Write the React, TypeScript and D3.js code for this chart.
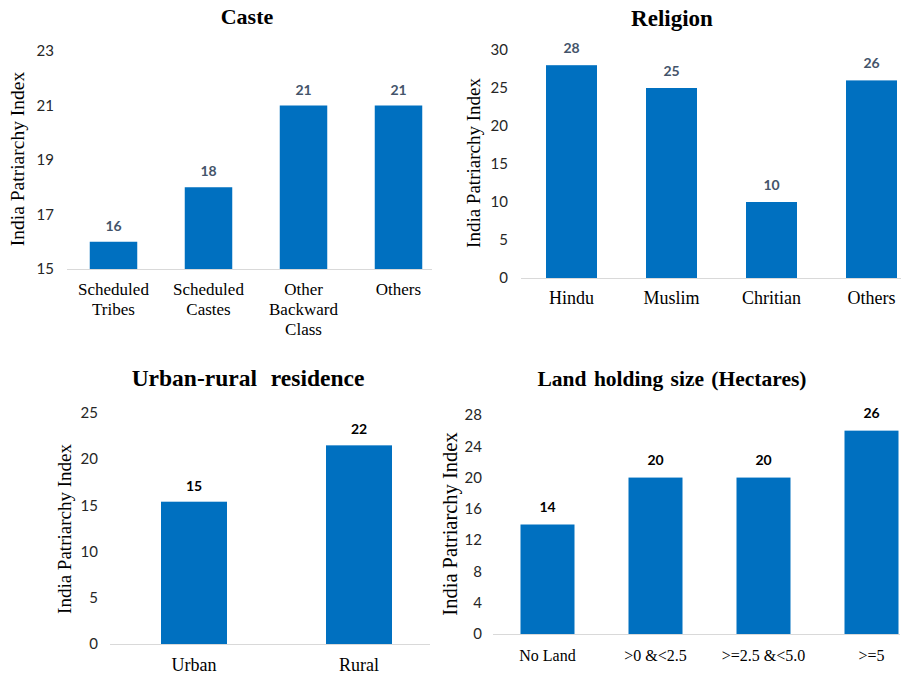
import React from "react";
import * as d3 from "d3";

const casteCategories = [["Scheduled", "Tribes"], ["Scheduled", "Castes"], ["Other", "Backward", "Class"], ["Others"]];
const casteValues = [16, 18, 21, 21];
const casteTicks = [15, 17, 19, 21, 23];

const religionCategories = [["Hindu"], ["Muslim"], ["Chritian"], ["Others"]];
const religionValues = [28, 25, 10, 26];
const religionTicks = [0, 5, 10, 15, 20, 25, 30];

const residenceCategories = [["Urban"], ["Rural"]];
const residenceValues = [15.4, 21.5];
const residenceLabels = ["15", "22"];
const residenceTicks = [0, 5, 10, 15, 20, 25];

const landCategories = [["No Land"], [">0 &<2.5"], [">=2.5 &<5.0"], [">=5"]];
const landValues = [14, 20, 20, 26];
const landTicks = [0, 4, 8, 12, 16, 20, 24, 28];

const BAR = "#0070C0";
const SERIF = { fontFamily: "Liberation Serif" };
const SANS = { fontFamily: "Lato" };

type PanelProps = {
  title: string;
  titleX: number;
  titleY: number;
  titleSize: number;
  titleSpacing: number;
  cats: string[][];
  values: number[];
  valueLabels?: string[];
  ticks: number[];
  yDomain: [number, number];
  yRange: [number, number];
  xRange: [number, number];
  pad: number;
  axisX: [number, number];
  tickRight: number;
  yLabelX: number;
  yLabelY: number;
  yLabelSize: number;
  catY: number;
  catSize: number;
  valueColor: string;
  valueOffset: number;
};

function Panel(p: PanelProps) {
  const y = d3.scaleLinear().domain(p.yDomain).range(p.yRange);
  const x = d3
    .scaleBand<number>()
    .domain(p.cats.map((_, i) => i))
    .range(p.xRange)
    .paddingInner(p.pad)
    .paddingOuter(p.pad / 2);
  const base = y(p.yDomain[0]);
  return (
    <g>
      <text x={p.titleX} y={p.titleY} textAnchor="middle" fontWeight="bold" fontSize={p.titleSize} fill="#000" style={{ ...SERIF, wordSpacing: `${p.titleSpacing}px` }}>
        {p.title}
      </text>
      <text
        transform={`translate(${p.yLabelX},${p.yLabelY}) rotate(-90)`}
        textAnchor="middle"
        dominantBaseline="central"
        fontSize={p.yLabelSize}
        fill="#000"
        style={SERIF}
      >
        India Patriarchy Index
      </text>
      {p.ticks.map((t) => (
        <text key={t} x={p.tickRight} y={y(t)} dy="0.35em" textAnchor="end" fontSize={15} fill="#262626" style={SANS}>
          {t}
        </text>
      ))}
      {p.values.map((v, i) => (
        <rect key={i} x={x(i)} y={y(v)} width={x.bandwidth()} height={base - y(v)} fill={BAR} />
      ))}
      <line x1={p.axisX[0]} x2={p.axisX[1]} y1={base + 0.5} y2={base + 0.5} stroke="#D9D9D9" strokeWidth={1.2} />
      {p.values.map((v, i) => (
        <text key={i} x={(x(i) as number) + x.bandwidth() / 2} y={y(v) - p.valueOffset} textAnchor="middle" fontWeight="bold" fontSize={14} fill={p.valueColor} style={SANS}>
          {p.valueLabels ? p.valueLabels[i] : Math.round(v)}
        </text>
      ))}
      {p.cats.map((lines, i) => (
        <text key={i} textAnchor="middle" fontSize={p.catSize} fill="#000" style={SERIF}>
          {lines.map((ln, j) => (
            <tspan key={j} x={(x(i) as number) + x.bandwidth() / 2} y={p.catY + j * 20}>
              {ln}
            </tspan>
          ))}
        </text>
      ))}
    </g>
  );
}

export default function App() {
  return (
    <svg width={901} height={675} style={{ position: "absolute", left: 0, top: 0, background: "#fff" }}>
      <rect width={901} height={675} fill="#fff" />
      <Panel
        title="Caste" titleX={247} titleY={24} titleSize={22} titleSpacing={0}
        cats={casteCategories} values={casteValues} ticks={casteTicks}
        yDomain={[15, 23]} yRange={[269, 51]} xRange={[66, 446]} pad={0.5}
        axisX={[67, 432]} tickRight={54} yLabelX={17} yLabelY={159} yLabelSize={19.5}
        catY={295} catSize={17} valueColor="#44546A" valueOffset={11}
      />
      <Panel
        title="Religion" titleX={672} titleY={26} titleSize={23} titleSpacing={0}
        cats={religionCategories} values={religionValues} ticks={religionTicks}
        yDomain={[0, 30]} yRange={[278, 50]} xRange={[521.5, 921.5]} pad={0.49}
        axisX={[521, 901]} tickRight={508} yLabelX={473} yLabelY={163} yLabelSize={19}
        catY={304} catSize={18} valueColor="#44546A" valueOffset={12}
      />
      <Panel
        title="Urban-rural residence" titleX={248} titleY={386} titleSize={23.5} titleSpacing={8}
        cats={residenceCategories} values={residenceValues} valueLabels={residenceLabels} ticks={residenceTicks}
        yDomain={[0, 25]} yRange={[644, 413]} xRange={[111.5, 441.5]} pad={0.6}
        axisX={[110, 430]} tickRight={98} yLabelX={64} yLabelY={529} yLabelSize={19}
        catY={671} catSize={18} valueColor="#000" valueOffset={11}
      />
      <Panel
        title="Land holding size (Hectares)" titleX={672} titleY={386} titleSize={21.5} titleSpacing={2}
        cats={landCategories} values={landValues} ticks={landTicks}
        yDomain={[0, 28]} yRange={[634, 415]} xRange={[493.5, 925.5]} pad={0.5}
        axisX={[493, 900]} tickRight={482} yLabelX={450} yLabelY={524} yLabelSize={20.5}
        catY={661} catSize={16} valueColor="#000" valueOffset={13}
      />
    </svg>
  );
}
